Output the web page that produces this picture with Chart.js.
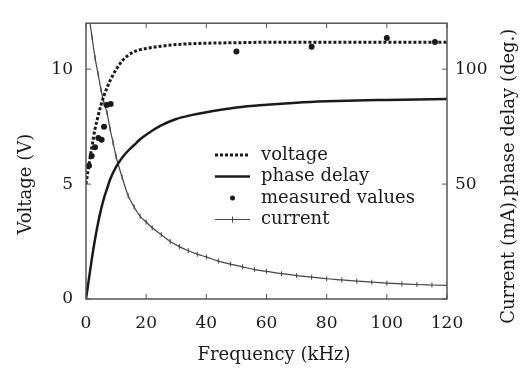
<!DOCTYPE html>
<html>
<head>
<meta charset="utf-8">
<script src="https://cdn.jsdelivr.net/npm/chart.js@4.4.0/dist/chart.umd.min.js"></script>
<style>
  html, body { margin: 0; padding: 0; background: #fff; }
  #wrap { width: 527px; height: 372px; }
</style>
</head>
<body>
<div id="wrap"><canvas id="chart"></canvas></div>
<script>
// ====== DATA ======
const xTicks = [0, 20, 40, 60, 80, 100, 120];
const yTicks = [0, 5, 10];
const y2Ticks = [0, 50, 100];

// voltage (V), dotted curve
const voltFreq   = [0, 1, 2, 3, 4, 5, 6, 7, 8, 9, 10, 12, 14, 16, 18, 20, 25, 30, 40, 50, 60, 80, 100, 120];
const voltValues = [5.0, 5.85, 6.65, 7.4, 7.95, 8.45, 8.85, 9.2, 9.5, 9.76, 9.98, 10.36, 10.6, 10.76, 10.85, 10.9, 11.0, 11.07, 11.13, 11.15, 11.17, 11.17, 11.17, 11.17];

// phase delay (deg.), solid curve, right axis
const phaseFreq   = [0, 1, 2, 3, 4, 5, 6, 7, 8, 10, 12, 14, 16, 18, 20, 25, 30, 35, 40, 50, 60, 70, 80, 90, 100, 110, 120];
const phaseValues = [0, 9, 18, 26, 33, 39, 44, 48, 52, 57.5, 61.5, 64.5, 67, 69.5, 71.5, 75.5, 78.3, 80, 81.3, 83.3, 84.5, 85.4, 86, 86.4, 86.6, 86.8, 87];

// measured values (V)
const measFreq   = [1.0, 1.9, 3.0, 4.1, 5.2, 6.0, 6.9, 8.2, 50, 75, 100, 116];
const measValues = [5.8, 6.22, 6.6, 7.0, 6.93, 7.5, 8.44, 8.48, 10.77, 10.97, 11.36, 11.18];

// current (mA), thin curve with ticks, right axis
const currFreq   = [1, 2, 3, 4, 5, 6, 7, 8, 9, 10, 12, 14, 16, 18, 20, 22, 25, 28, 31, 34, 37, 40, 44, 48, 52, 56, 60, 65, 70, 75, 80, 85, 90, 95, 100, 105, 110, 115, 120];
const currValues = [123, 114, 105, 98, 91, 85, 81, 74, 68, 62, 53, 45, 40, 36, 33.5, 31, 28, 25, 22.8, 21, 19.5, 18.3, 16.5, 15.2, 14, 12.8, 12, 11, 10.2, 9.5, 8.8, 8.3, 7.8, 7.3, 6.9, 6.6, 6.3, 6.1, 5.9];

const FONT = "'DejaVu Serif', serif";
const INK = '#1a1a1a';

function pts(xs, ys) {
    return xs.map((x, i) => ({ x: x, y: ys[i] }));
}

// ====== FRAME, INWARD TICKS, TITLES, LEGEND ======
const decor = {
    id: 'decor',
    afterDatasetsDraw(chart) {
        const ctx = chart.ctx;
        const a = chart.chartArea;
        const sx = chart.scales.x, sy = chart.scales.y, sy2 = chart.scales.y2;
        ctx.save();
        ctx.strokeStyle = '#555';
        ctx.lineWidth = 1.5;
        ctx.strokeRect(a.left, a.top, a.right - a.left, a.bottom - a.top);

        ctx.lineWidth = 1;
        ctx.beginPath();
        sx.ticks.forEach(t => {
            const px = sx.getPixelForValue(t.value);
            ctx.moveTo(px, a.bottom); ctx.lineTo(px, a.bottom - 5);
            ctx.moveTo(px, a.top); ctx.lineTo(px, a.top + 5);
        });
        sy.ticks.forEach(t => {
            const py = sy.getPixelForValue(t.value);
            ctx.moveTo(a.left, py); ctx.lineTo(a.left + 5, py);
        });
        sy2.ticks.forEach(t => {
            const py = sy2.getPixelForValue(t.value);
            ctx.moveTo(a.right, py); ctx.lineTo(a.right - 5, py);
        });
        ctx.stroke();

        // axis titles
        ctx.fillStyle = INK;
        ctx.font = '18px ' + FONT;
        ctx.textAlign = 'center';
        ctx.textBaseline = 'middle';
        ctx.save();
        ctx.translate(26, a.top + 161);
        ctx.rotate(-Math.PI / 2);
        ctx.fillText('Voltage (V)', 0, 0);
        ctx.restore();
        ctx.save();
        ctx.translate(509, a.top + 153);
        ctx.rotate(-Math.PI / 2);
        ctx.fillText('Current (mA),phase delay (deg.)', 0, 0);
        ctx.restore();
        ctx.fillText('Frequency (kHz)', 274, 355);

        // legend
        ctx.textAlign = 'left';
        const x0 = 215, x1 = 250, tx = 261;
        let y = 155;
        chart.data.datasets.forEach(ds => {
            ctx.strokeStyle = ds.borderColor;
            ctx.fillStyle = ds.pointBackgroundColor || ds.borderColor;
            if (ds.showLine === false) {
                ctx.beginPath();
                ctx.arc((x0 + x1) / 2, y, 2.5, 0, Math.PI * 2);
                ctx.fill();
            } else {
                ctx.lineWidth = ds.borderWidth;
                ctx.setLineDash(ds.borderDash || []);
                ctx.beginPath();
                ctx.moveTo(x0, y); ctx.lineTo(x1, y);
                ctx.stroke();
                ctx.setLineDash([]);
                if (ds.pointRadius > 0) {
                    ctx.lineWidth = 1;
                    ctx.beginPath();
                    ctx.moveTo((x0 + x1) / 2, y - 3); ctx.lineTo((x0 + x1) / 2, y + 3);
                    ctx.stroke();
                }
            }
            ctx.fillStyle = INK;
            ctx.fillText(ds.label, tx, y);
            y += 21.5;
        });
        ctx.restore();
    }
};

// ====== CHART ======
const ctx = document.getElementById('chart').getContext('2d');
const chart = new Chart(ctx, {
    type: 'line',
    data: {
        datasets: [{
            label: 'voltage',
            data: pts(voltFreq, voltValues),
            yAxisID: 'y',
            borderColor: INK,
            borderWidth: 3,
            borderDash: [3, 2],
            pointRadius: 0,
            cubicInterpolationMode: 'monotone'
        }, {
            label: 'phase delay',
            data: pts(phaseFreq, phaseValues),
            yAxisID: 'y2',
            borderColor: INK,
            borderWidth: 2.5,
            pointRadius: 0,
            cubicInterpolationMode: 'monotone'
        }, {
            label: 'measured values',
            data: pts(measFreq, measValues),
            yAxisID: 'y',
            showLine: false,
            borderColor: INK,
            pointBackgroundColor: INK,
            pointBorderWidth: 0,
            pointRadius: 3
        }, {
            label: 'current',
            data: pts(currFreq, currValues),
            yAxisID: 'y2',
            borderColor: '#444',
            borderWidth: 1.2,
            pointStyle: 'line',
            rotation: 90,
            pointRadius: 2.5,
            pointBorderWidth: 1,
            pointBorderColor: '#444',
            cubicInterpolationMode: 'monotone'
        }]
    },
    options: {
        responsive: true,
        maintainAspectRatio: false,
        animation: false,
        events: [],
        layout: { padding: { top: 15, left: 0, right: 0, bottom: 0 } },
        plugins: {
            legend: { display: false },
            tooltip: { enabled: false }
        },
        scales: {
            x: {
                type: 'linear',
                min: 0, max: 120,
                afterBuildTicks: s => { s.ticks = xTicks.map(v => ({ value: v })); },
                afterFit: s => { s.height = 73; },
                grid: { display: false, drawTicks: false },
                border: { display: false },
                ticks: { padding: 14, color: INK, font: { family: FONT, size: 17 } }
            },
            y: {
                position: 'left',
                min: 0, max: 12,
                afterBuildTicks: s => { s.ticks = yTicks.map(v => ({ value: v })); },
                ticks: { padding: 13, color: INK, font: { family: FONT, size: 17 } },
                afterFit: s => { s.width = 86; },
                grid: { display: false, drawTicks: false },
                border: { display: false }
            },
            y2: {
                position: 'right',
                min: 0, max: 120,
                afterBuildTicks: s => { s.ticks = y2Ticks.map(v => ({ value: v })); },
                ticks: {
                    padding: 8, color: INK, font: { family: FONT, size: 17 },
                    callback: v => (v === 0 ? '' : v)
                },
                afterFit: s => { s.width = 80; },
                grid: { display: false, drawTicks: false },
                border: { display: false }
            }
        }
    },
    plugins: [decor]
});
</script>
</body>
</html>
